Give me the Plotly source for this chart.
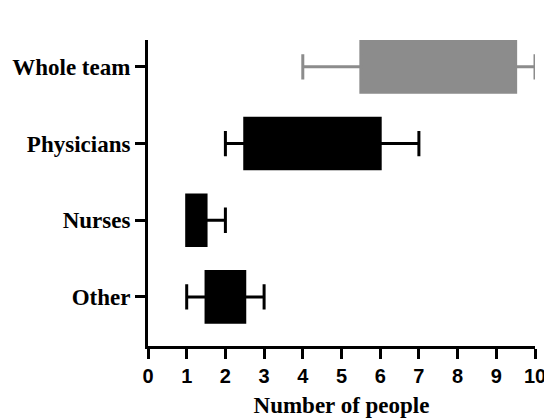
import plotly.graph_objects as go

categories = ["Whole team", "Physicians", "Nurses", "Other"]
mins = [4, 2, 1, 1]
q1s = [5.5, 2.5, 1, 1.5]
medians = [7.5, 4, 1.25, 2]
q3s = [9.5, 6, 1.5, 2.5]
maxs = [10, 7, 2, 3]
colors = ["#8c8c8c", "#000000", "#000000", "#000000"]

fig = go.Figure()
for i, c in enumerate(categories):
    fig.add_trace(go.Box(
        y=[c], q1=[q1s[i]], median=[medians[i]], q3=[q3s[i]],
        lowerfence=[mins[i]], upperfence=[maxs[i]],
        orientation="h", fillcolor=colors[i],
        line=dict(color=colors[i], width=3),
        whiskerwidth=0.5, width=0.66, boxpoints=False,
        showlegend=False, hoverinfo="skip",
    ))

# page body has an 8px default margin, so the figure is sized/offset to compensate
fig.update_layout(
    width=544, height=410,
    margin=dict(l=140, r=17, t=32, b=72),
    paper_bgcolor="white", plot_bgcolor="white",
    boxmode="overlay",
    xaxis=dict(
        range=[0, 10], tickvals=list(range(11)), automargin=False,
        showgrid=False, zeroline=False,
        showline=True, linecolor="black", linewidth=3,
        ticks="outside", ticklen=10, tickwidth=3, tickcolor="black",
        tickfont=dict(family="Liberation Sans", size=20, color="black", weight="bold"),
        title=dict(text="<b>Number of people</b>", standoff=12,
                   font=dict(family="Liberation Serif", size=23, color="black")),
    ),
    yaxis=dict(
        type="category", categoryorder="array", automargin=False,
        categoryarray=list(reversed(categories)),
        range=[-0.64, 3.35],
        showgrid=False, zeroline=False,
        showline=True, linecolor="black", linewidth=3,
        ticks="outside", ticklen=10, tickwidth=3, tickcolor="black",
        tickfont=dict(family="Liberation Serif", size=23, color="black", weight="bold"),
    ),
)

fig.write_html("out.html")
